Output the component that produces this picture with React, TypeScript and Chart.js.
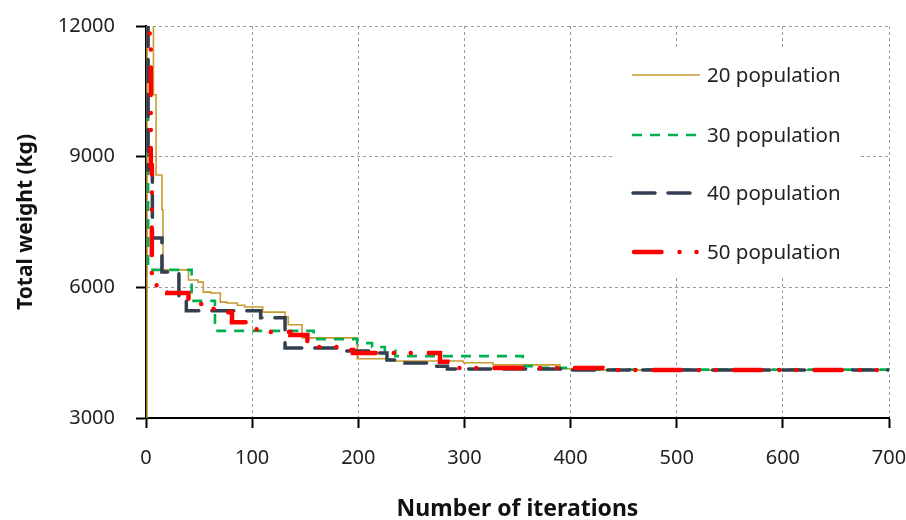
import React, { useEffect, useRef } from "react";
import { Chart, registerables } from "chart.js";

Chart.register(...registerables);

const FONT = "'Noto Sans', 'Open Sans', sans-serif";

// Series: iteration where the best weight changes, and the new best weight (kg)
const pop20Iter = [0, 1, 7, 9.5, 15, 16, 40, 49, 54, 61, 70, 76, 86, 93, 110, 131, 134, 147, 199, 230, 299, 327, 390, 430, 700];
const pop20Weight = [0, 13500, 10420, 8580, 7780, 6400, 6170, 6120, 5890, 5870, 5660, 5640, 5590, 5550, 5430, 5320, 5140, 4840, 4360, 4310, 4270, 4220, 4130, 4100, 4100];

const pop30Iter = [0, 2, 43, 65, 158, 199, 213, 225, 235, 355, 372, 400, 700];
const pop30Weight = [10000, 6400, 5690, 5000, 4810, 4720, 4630, 4540, 4420, 4190, 4150, 4110, 4100];

const pop40Iter = [0.5, 2, 6, 15, 31, 38, 108, 131, 180, 214, 227, 244, 268, 284, 400, 700];
const pop40Weight = [12800, 8700, 7130, 6350, 5710, 5460, 5300, 4610, 4540, 4490, 4330, 4260, 4190, 4125, 4100, 4100];

const pop50Iter = [0.5, 3.5, 4.5, 5.5, 10, 20, 40, 52, 74, 81, 95, 110, 136, 152, 185, 195, 277, 284, 430, 700];
const pop50Weight = [12800, 11800, 8800, 6300, 6050, 5870, 5660, 5510, 5430, 5200, 5040, 4975, 4905, 4630, 4560, 4490, 4290, 4150, 4100, 4100];

const seriesLabels = ["20 population", "30 population", "40 population", "50 population"];
const xTickStep = 100;
const yTickStep = 3000;
const xMin = 0;
const xMax = 700;
const yMin = 3000;
const yMax = 12000;

const styles = [
  { color: "#C99A2E", width: 1.6, dash: [] as number[], cap: "butt" as CanvasLineCap },
  { color: "#00B050", width: 2.6, dash: [10, 8], cap: "butt" as CanvasLineCap },
  { color: "#333F50", width: 3.5, dash: [22, 13], cap: "round" as CanvasLineCap },
  { color: "#FF0000", width: 4.5, dash: [27.5, 18, 0.01, 17, 0.01, 18], cap: "round" as CanvasLineCap },
];

function toPoints(xs: number[], ys: number[]) {
  return xs.map((x, i) => ({ x, y: ys[i] }));
}

const legendPlugin = {
  id: "customLegend",
  afterDraw(chart: any) {
    const ctx = chart.ctx as CanvasRenderingContext2D;
    ctx.save();
    ctx.fillStyle = "#ffffff";
    ctx.fillRect(615, 47, 243, 229);
    const rows = [75, 135, 193, 252];
    const segs: [number, number][] = [[632, 700], [632, 697], [633, 693], [634, 700]];
    rows.forEach((y, i) => {
      const s = styles[i];
      ctx.beginPath();
      ctx.strokeStyle = s.color;
      ctx.lineWidth = s.width;
      ctx.lineCap = s.cap;
      ctx.setLineDash(s.dash);
      ctx.moveTo(segs[i][0], y);
      ctx.lineTo(segs[i][1], y);
      ctx.stroke();
      ctx.setLineDash([]);
      ctx.fillStyle = "#222222";
      ctx.font = `20.5px ${FONT}`;
      ctx.textAlign = "left";
      ctx.textBaseline = "middle";
      ctx.fillText(seriesLabels[i], 707, y + 1);
    });
    ctx.restore();
  },
};

function zeroPadding(s: any) {
  s.paddingLeft = 0;
  s.paddingRight = 0;
  s.paddingTop = 0;
  s.paddingBottom = 0;
}

export default function App() {
  const canvasRef = useRef<HTMLCanvasElement | null>(null);

  useEffect(() => {
    document.body.style.margin = "0";
    const canvas = canvasRef.current;
    if (!canvas) return;
    const allIters = [pop20Iter, pop30Iter, pop40Iter, pop50Iter];
    const allWeights = [pop20Weight, pop30Weight, pop40Weight, pop50Weight];
    const datasets = seriesLabels.map((label, i) => ({
      label,
      data: toPoints(allIters[i], allWeights[i]),
      borderColor: styles[i].color,
      backgroundColor: styles[i].color,
      borderWidth: styles[i].width,
      borderDash: styles[i].dash,
      borderCapStyle: styles[i].cap,
      pointRadius: 0,
      pointHoverRadius: 0,
      stepped: true,
      fill: false,
      order: 3 - i,
    }));

    const chart = new Chart(canvas, {
      type: "line",
      data: { datasets },
      options: {
        animation: false,
        responsive: true,
        maintainAspectRatio: false,
        layout: { padding: { left: 0, right: 17, top: 26, bottom: 0 } },
        plugins: {
          legend: { display: false },
          tooltip: { enabled: false },
        },
        scales: {
          x: {
            type: "linear",
            min: xMin,
            max: xMax,
            ticks: {
              stepSize: xTickStep,
              padding: 18,
              color: "#222222",
              font: { family: FONT, size: 20 },
              maxRotation: 0,
              callback: (v: any) => String(v),
            },
            grid: {
              color: "#9a9a9a",
              lineWidth: 1,
              tickLength: 10,
              tickColor: "#000000",
              tickWidth: 2,
            },
            border: { display: true, color: "#000000", width: 2, dash: [3, 3] },
            title: {
              display: true,
              text: "Number of iterations",
              color: "#111111",
              font: { family: FONT, size: 23, weight: "bold" },
              padding: { top: 0, bottom: -3 },
            },
            afterFit: (s: any) => {
              s.height = 102;
              zeroPadding(s);
            },
          },
          y: {
            type: "linear",
            min: yMin,
            max: yMax,
            ticks: {
              stepSize: yTickStep,
              padding: 21,
              color: "#222222",
              font: { family: FONT, size: 20 },
              callback: (v: any) => String(v),
            },
            grid: {
              color: "#9a9a9a",
              lineWidth: 1,
              tickLength: 10,
              tickColor: "#000000",
              tickWidth: 2,
            },
            border: { display: true, color: "#000000", width: 2, dash: [3, 3] },
            title: {
              display: true,
              text: "Total weight (kg)",
              color: "#111111",
              font: { family: FONT, size: 21, weight: "bold" },
              padding: { top: 13, bottom: 0 },
            },
            afterFit: (s: any) => {
              s.width = 146;
              zeroPadding(s);
            },
          },
        },
      } as any,
      plugins: [legendPlugin],
    });
    return () => chart.destroy();
  }, []);

  return (
    <div style={{ width: 906, height: 520, position: "relative", background: "#fff" }}>
      <canvas ref={canvasRef} />
    </div>
  );
}
